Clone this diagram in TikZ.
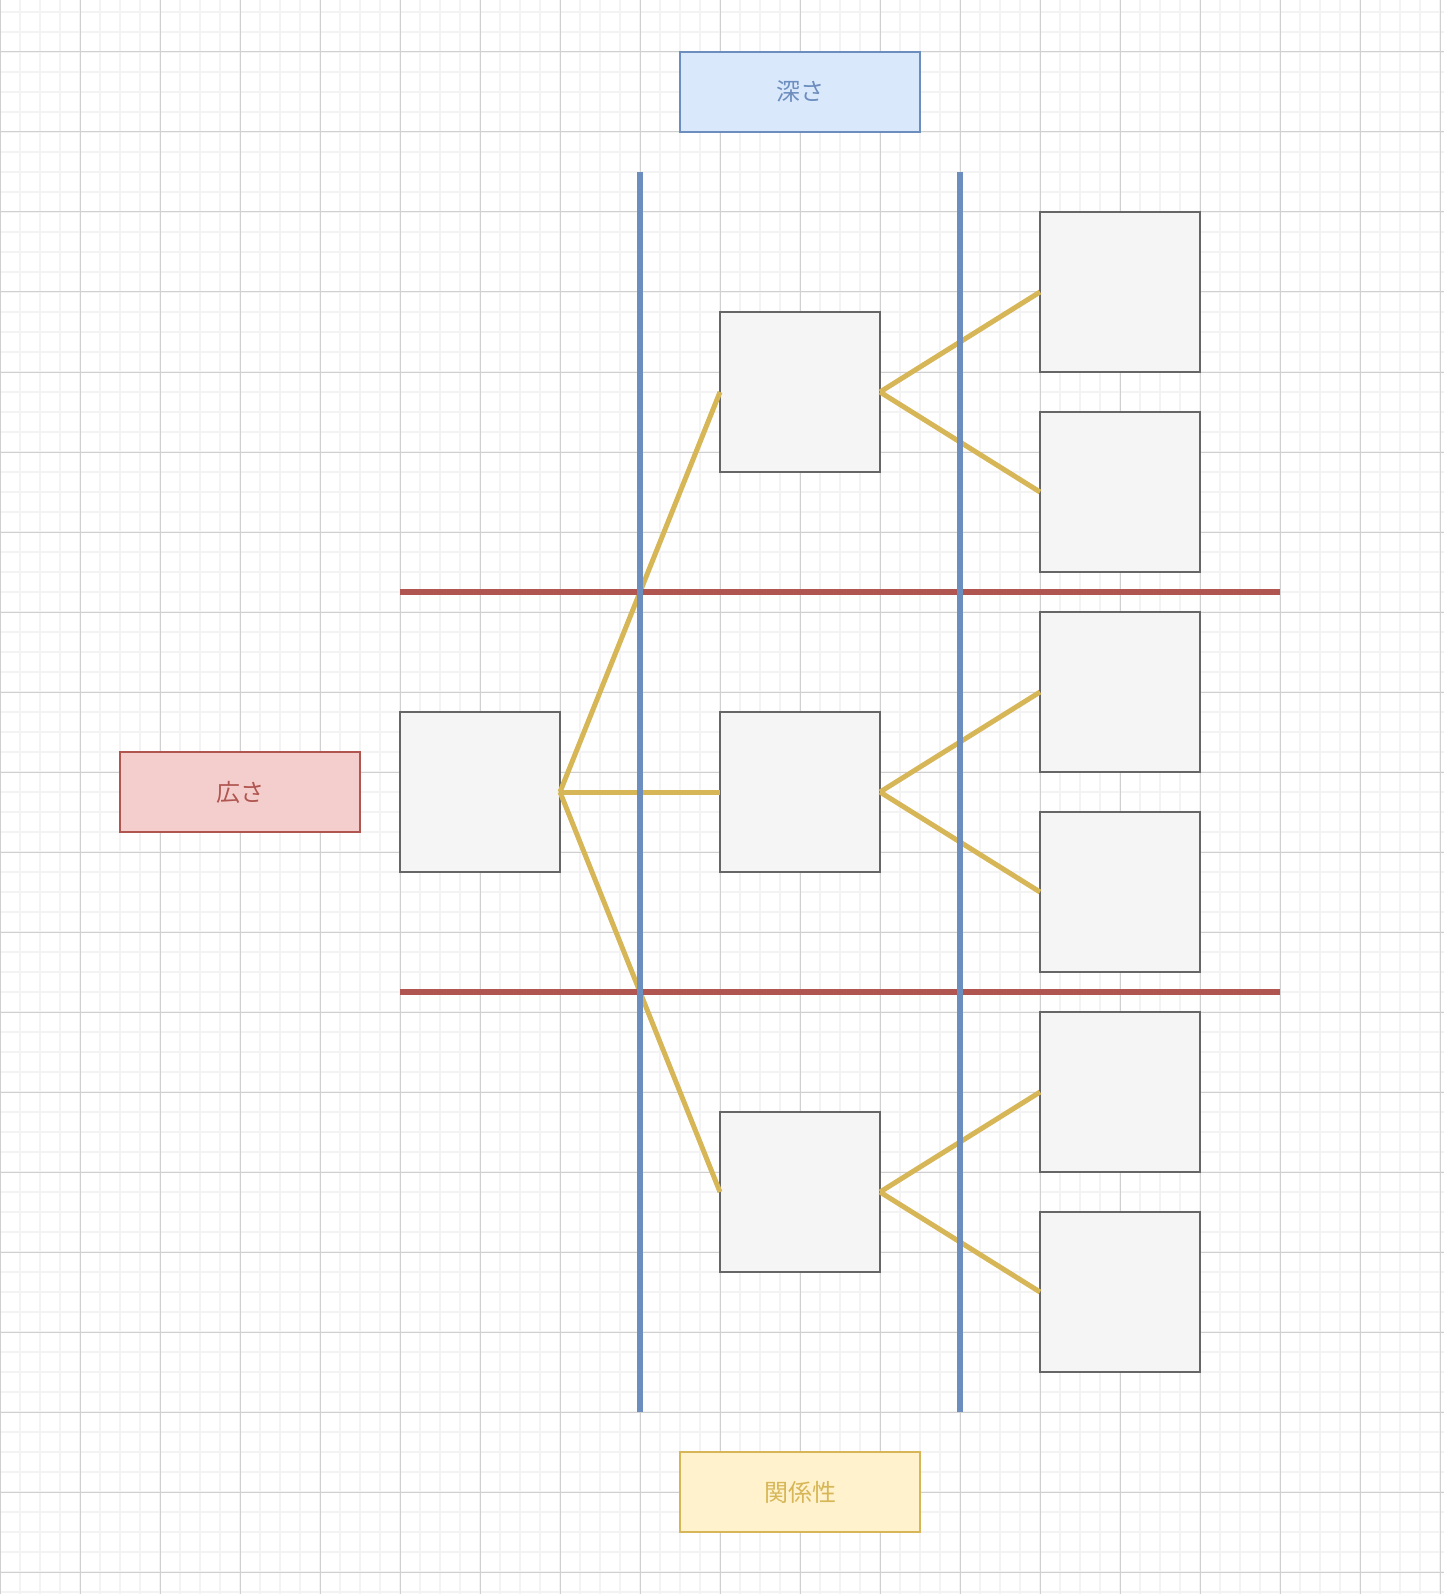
\documentclass[tikz,border=0pt]{standalone}
\usepackage{fontspec}
\usepackage{xcolor}
\usetikzlibrary{positioning}
\newfontfamily\jpfont{Noto Sans CJK JP}
\definecolor{GridMajor}{HTML}{D0D0D0}
\definecolor{GridMinor}{HTML}{F3F3F3}
\definecolor{BoxFill}{HTML}{F5F5F5}
\definecolor{BoxLine}{HTML}{666666}
\definecolor{Blue}{HTML}{6C8EBF}
\definecolor{BlueFill}{HTML}{DAE8FC}
\definecolor{Red}{HTML}{B05550}
\definecolor{RedFill}{HTML}{F4CECC}
\definecolor{Gold}{HTML}{D6B656}
\definecolor{GoldFill}{HTML}{FFF2CC}

\begin{document}
\begin{tikzpicture}[x=1pt, y=-1pt,
  every node/.style={font=\jpfont\fontsize{24}{28}\selectfont},
  box/.style={rectangle,draw=BoxLine,fill=BoxFill,line width=2pt,minimum size=160pt,inner sep=0pt,outer sep=0pt},
  tag/.style={rectangle,line width=2pt,minimum width=240pt,minimum height=80pt,inner sep=0pt,outer sep=0pt},
  link/.style={Gold,line width=5pt},
  band/.style={line width=6pt}]
  \useasboundingbox[fill=white] (0,0) rectangle (1444,1594);
  % grid
  \foreach \x in {0,20,...,1440} \draw[GridMinor,line width=1.2pt] (\x,0) -- (\x,1594);
  \foreach \y in {12,32,...,1592} \draw[GridMinor,line width=1.2pt] (0,\y) -- (1444,\y);
  \foreach \x in {0,80,...,1440} \draw[GridMajor,line width=1pt] (\x,0) -- (\x,1594);
  \foreach \y in {52,132,...,1592} \draw[GridMajor,line width=1pt] (0,\y) -- (1444,\y);

  % boxes
  \node[box] (root) at (480,792) {};
  \node[box,right=160pt of root] (mid2) {};
  \node[box,above=240pt of mid2] (mid1) {};
  \node[box,below=240pt of mid2] (mid3) {};
  \foreach \m [count=\i] in {mid1,mid2,mid3} {
    \node[box,right=160pt of \m,yshift=100pt] (leaf\i a) {};
    \node[box,right=160pt of \m,yshift=-100pt] (leaf\i b) {};
  }

  % labels
  \node[tag,draw=Blue,fill=BlueFill,text=Blue] (depth) at (800,92) {深さ};
  \node[tag,draw=Red,fill=RedFill,text=Red] (breadth) at (240,792) {広さ};
  \node[tag,draw=Gold,fill=GoldFill,text=Gold] (relation) at (800,1492) {関係性};

  % links
  \foreach \m in {mid1,mid2,mid3} \draw[link] (root.east) -- (\m.west);
  \foreach \m [count=\i] in {mid1,mid2,mid3} {
    \draw[link] (\m.east) -- (leaf\i a.west);
    \draw[link] (\m.east) -- (leaf\i b.west);
  }

  % bands
  \coordinate (r1w) at (400,592); \coordinate (r1e) at (1280,592);
  \coordinate (r2w) at (400,992); \coordinate (r2e) at (1280,992);
  \draw[band,Red] (r1w) -- (r1e);
  \draw[band,Red] (r2w) -- (r2e);
  \coordinate (b1n) at (640,172); \coordinate (b1s) at (640,1412);
  \coordinate (b2n) at (960,172); \coordinate (b2s) at (960,1412);
  \draw[band,Blue] (b1n) -- (b1s);
  \draw[band,Blue] (b2n) -- (b2s);
\end{tikzpicture}
\end{document}
